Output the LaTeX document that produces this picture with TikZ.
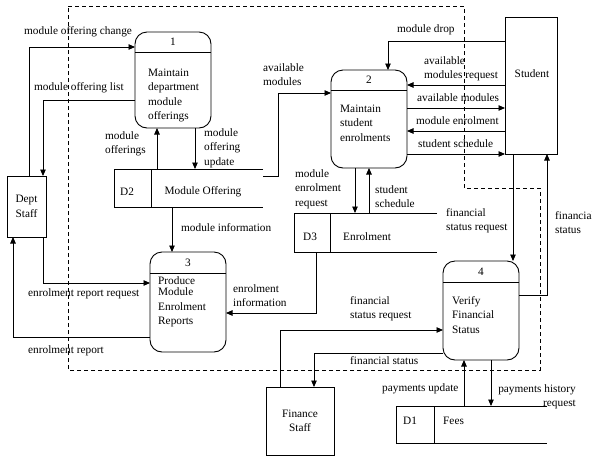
\documentclass[tikz,border=0pt]{standalone}
\usepackage{fontspec}
\setmainfont{Liberation Serif}
\usetikzlibrary{arrows.meta, positioning}

\begin{document}
\begin{tikzpicture}[x=1pt, y=-1pt,
      font=\fontsize{11.3}{14.5}\selectfont,
      line/.style={line width=0.9pt},
      process/.style={draw, line width=0.9pt, rounded corners=12pt,
                      minimum width=76pt, inner sep=0pt, outer sep=0pt},
      entity/.style={draw, line width=0.9pt, inner sep=0pt, outer sep=0pt},
      store/.style={inner sep=0pt, outer sep=0pt},
      lbl/.style={align=left, inner sep=0pt, anchor=base west},
      flow/.style={-{Triangle[length=6.5pt, width=5.5pt]}, line width=0.9pt},
      boundary/.style={dashed, dash pattern=on 4pt off 3pt, line width=0.7pt}
    ]
    \useasboundingbox (0,0) rectangle (592,456);
    \draw[boundary] (68,6) -- (464,6) -- (464,188) -- (540,188) -- (540,370) -- (68,370) -- cycle;

    \node[process, minimum height=96pt] (p1) at (173,80) {};
    \node[process, minimum height=98pt] (p2) at (369,119) {};
    \node[process, minimum height=100pt] (p3) at (188,302) {};
    \node[process, minimum height=99pt] (p4) at (481,310.5) {};
    \draw[line] ([yshift=-20pt]p1.north west) -- ([yshift=-20pt]p1.north east);
    \draw[line] ([yshift=-20pt]p2.north west) -- ([yshift=-20pt]p2.north east);
    \draw[line] ([yshift=-21pt]p3.north west) -- ([yshift=-21pt]p3.north east);
    \draw[line] ([yshift=-21pt]p4.north west) -- ([yshift=-21pt]p4.north east);
    \node at ([yshift=-10pt]p1.north) {1};
    \node at ([yshift=-10pt]p2.north) {2};
    \node at ([yshift=-10.5pt]p3.north) {3};
    \node at ([yshift=-10.5pt]p4.north) {4};
    % multi-line labels: base is the last line
    \node[lbl] at (148,119.5) {Maintain\\department\\module\\offerings};
    \node[lbl] at (340,141) {Maintain\\student\\enrolments};
    \node[lbl] at (158,324.5) {Produce\\[-3pt]Module\\Enrolment\\Reports};
    \node[lbl] at (452,333) {Verify\\Financial\\Status};

    \node[entity, minimum width=39pt, minimum height=61pt] (dept) at (26.5,206.5) {};
    \node[entity, minimum width=52pt, minimum height=137pt] (stud) at (531,85.5) {};
    \node[entity, minimum width=68pt, minimum height=68pt] (fin) at (300,421) {};
    \node[align=center] at (dept) {Dept\\Staff};
    \node at (532,74) {Student};
    \node[align=center] at (fin) {Finance\\Staff};

    \node[store, minimum width=149pt, minimum height=38pt] (d2) at (188.5,188) {};
    \node[store, minimum width=143pt, minimum height=39pt] (d3) at (365.5,232.5) {};
    \node[store, minimum width=151pt, minimum height=37pt] (d1) at (471.5,424.5) {};
    \draw[line] (d2.north east) -- (d2.north west) -- (d2.south west) -- (d2.south east);
    \draw[line] ([xshift=37pt]d2.north west) -- ([xshift=37pt]d2.south west);
    \draw[line] (d3.north east) -- (d3.north west) -- (d3.south west) -- (d3.south east);
    \draw[line] ([xshift=36pt]d3.north west) -- ([xshift=36pt]d3.south west);
    \draw[line] (d1.north east) -- (d1.north west) -- (d1.south west) -- (d1.south east);
    \draw[line] ([xshift=38pt]d1.north west) -- ([xshift=38pt]d1.south west);
    \node at (127,192) {D2};
    \node at (203,192) {Module Offering};
    \node at (310,237) {D3};
    \node[anchor=west, inner sep=0pt] at (343,237) {Enrolment};
    \node at (410,421) {D1};
    \node[anchor=west, inner sep=0pt] at (443,421) {Fees};

    \draw[flow] ([xshift=22pt]dept.north west) |- ([yshift=-15pt]p1.north west);
    \draw[flow] ([yshift=-20pt]p1.west) -| ([xshift=-3pt]dept.north east);
    \draw[flow] ([xshift=-16pt]p1.south |- d2.north) -- ([xshift=-16pt]p1.south);
    \draw[flow] ([xshift=22pt]p1.south) -- ([xshift=22pt]p1.south |- d2.north);
    \draw[flow] ([yshift=12pt]d2.east) -- ++(15,0) |- ([yshift=26pt]p2.west);
    \draw[flow] ([yshift=44.5pt]stud.west) -| ([xshift=19pt]p2.north);
    \draw[flow] ([yshift=34pt]p2.east -| stud.west) -- ([yshift=34pt]p2.east);
    \draw[flow] ([yshift=11pt]p2.east) -- ([yshift=11pt]p2.east -| stud.west);
    \draw[flow] ([yshift=-12pt]p2.east -| stud.west) -- ([yshift=-12pt]p2.east);
    \draw[flow] ([yshift=-35pt]p2.east) -- ([yshift=-35pt]p2.east -| stud.west);
    \draw[flow] ([xshift=-14pt]p2.south) -- ([xshift=-14pt]p2.south |- d3.north);
    \draw[flow] (p2.south |- d3.north) -- (p2.south);
    \draw[flow] ([xshift=22pt]d3.south west) |- ([yshift=-11pt]p3.east);
    \draw[flow] ([xshift=-16pt]p3.north |- d2.south) -- ([xshift=-16pt]p3.north);
    \draw[flow] ([xshift=-3pt]dept.south east) |- ([yshift=19pt]p3.west);
    \draw[flow] ([yshift=-35pt]p3.west) -| ([xshift=6pt]dept.south west);
    \draw[flow] ([xshift=-18pt]stud.south) -- ([xshift=-18pt]stud.south |- p4.north);
    \draw[flow] ([yshift=15.5pt]p4.east) -| ([xshift=16pt]stud.south);
    \draw[flow] ([xshift=14pt]fin.north west) |- ([yshift=-19.5pt]p4.west);
    \draw[flow] ([yshift=-42.5pt]p4.west) -| ([xshift=14pt]fin.north);
    \draw[flow] ([xshift=-17pt]p4.south |- d1.north) -- ([xshift=-17pt]p4.south);
    \draw[flow] ([xshift=10pt]p4.south) -- ([xshift=10pt]p4.south |- d1.north);

    \node[lbl] at (24,34) {module offering change};
    \node[lbl] at (34,90) {module offering list};
    \node[lbl] at (105,153.5) {module\\offerings};
    \node[lbl] at (204,165) {module\\offering\\update};
    \node[lbl] at (263,85.5) {available\\modules};
    \node[lbl] at (397,32) {module drop};
    \node[lbl] at (424,78.5) {available\\modules request};
    \node[lbl] at (417,101) {available modules};
    \node[lbl] at (416,124) {module enrolment};
    \node[lbl] at (418,147) {student schedule};
    \node[lbl] at (295,206) {module\\enrolment\\request};
    \node[lbl] at (375,207.5) {student\\schedule};
    \node[lbl] at (446,230.5) {financial\\status request};
    \node[lbl] at (555,233.5) {financial\\status};
    \node[lbl] at (181,231) {module information};
    \node[lbl] at (28,296) {enrolment report request};
    \node[lbl] at (28,353) {enrolment report};
    \node[lbl] at (233,306.5) {enrolment\\information};
    \node[lbl] at (350,318.5) {financial\\status request};
    \node[lbl] at (350,364) {financial status};
    \node[lbl] at (382,391) {payments update};
    \node[lbl, align=right, anchor=base east] at (576,406.5) {payments history\\request};
  \end{tikzpicture}
\end{document}
